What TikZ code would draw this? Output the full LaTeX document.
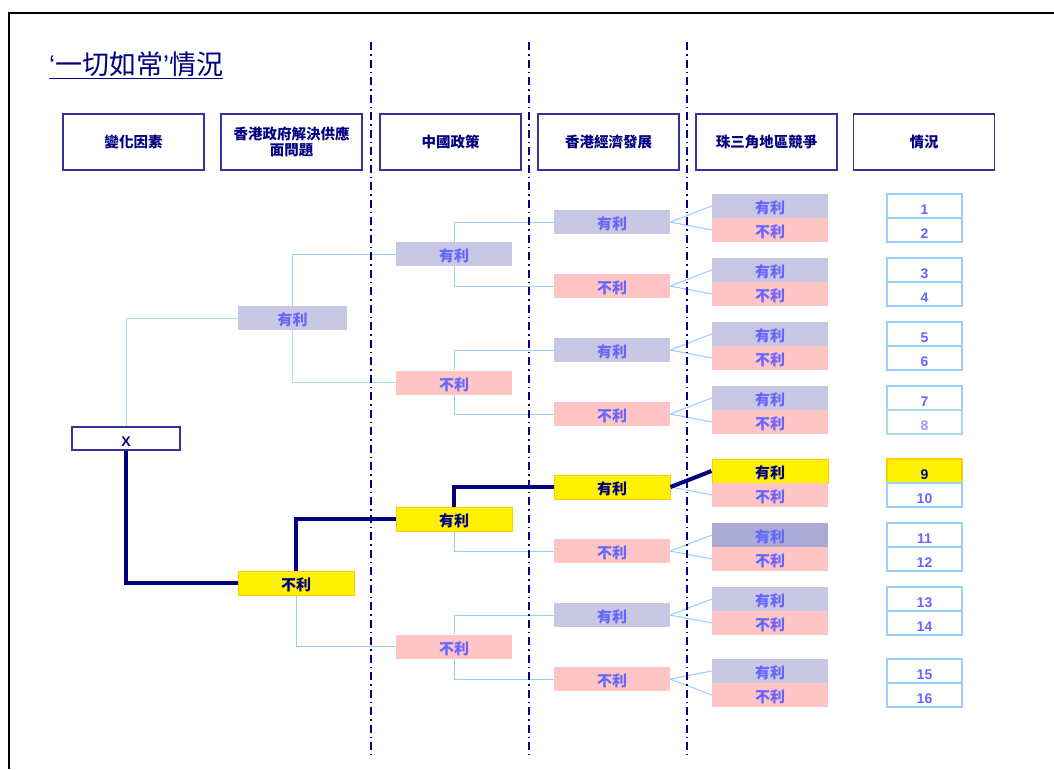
\documentclass[tikz,border=0pt]{standalone}
\usepackage{fontspec}
\setmainfont{Liberation Sans}
\newfontfamily\cjk{Noto Sans CJK TC}
\definecolor{navy}{RGB}{0,0,128}
\definecolor{hdrline}{RGB}{51,51,153}
\definecolor{favfill}{RGB}{200,200,228}
\definecolor{favdark}{RGB}{170,170,212}
\definecolor{unffill}{RGB}{255,196,196}
\definecolor{txtblue}{RGB}{102,102,255}
\definecolor{txtlight}{RGB}{153,153,255}
\definecolor{lblue}{RGB}{153,204,255}
\definecolor{lcyan}{RGB}{170,220,230}
\definecolor{gold}{RGB}{255,204,0}
\tikzset{
  hdr/.style={draw=hdrline, line width=1.3pt, fill=white, minimum width=141pt, minimum height=56pt,
    inner sep=0pt, align=center, text=navy, font=\cjk\bfseries\fontsize{14.5}{16}\selectfont},
  tb/.style={minimum height=24pt, minimum width=116pt, inner sep=0pt, text height=17pt, text depth=2pt,
    font=\cjk\bfseries\fontsize{15}{17}\selectfont},
  fav/.style={tb, fill=favfill, text=txtblue},
  favd/.style={tb, fill=favdark, text=txtblue},
  unf/.style={tb, fill=unffill, text=txtblue},
  yel/.style={tb, fill=yellow, draw=gold, line width=1pt, text=navy},
  numbox/.style={draw=lblue, line width=1.3pt, fill=white, minimum width=75pt, minimum height=24pt,
    inner sep=0pt, text height=16pt, text depth=0pt, text=txtblue, font=\bfseries\fontsize{14}{16}\selectfont},
  lite/.style={draw=lblue, line width=1pt},
  litec/.style={draw=lcyan, line width=1pt},
  heavy/.style={draw=navy, line width=4pt},
  sepline/.style={draw=navy, line width=2pt, dash pattern=on 8pt off 4pt on 1.5pt off 4pt},
}
\begin{document}
\begin{tikzpicture}[x=1pt,y=-1pt]
\useasboundingbox (0,0) rectangle (1054,769);
\fill[white] (0,0) rectangle (1054,769);
% frame
\draw[line width=2.6pt] (9,769) -- (9,13) -- (1054,13);
% title
\node[anchor=base west, inner sep=0pt, text=navy, font=\fontsize{27}{30}\selectfont] (title) at (49,74)
  {\underline{‘{\cjk 一切如常}’{\cjk 情況}}};
% separators
\coordinate (s1t) at (371,42); \coordinate (s1b) at (371,755);
\coordinate (s2t) at (529,42); \coordinate (s2b) at (529,755);
\coordinate (s3t) at (687,42); \coordinate (s3b) at (687,755);
% headers
\node[hdr] (h1) at (133.5,142) {變化因素};
\node[hdr] (h2) at (291.5,142) {香港政府解決供應\\面問題};
\node[hdr] (h3) at (450.5,142) {中國政策};
\node[hdr] (h4) at (608.5,142) {香港經濟發展};
\node[hdr] (h5) at (766.5,142) {珠三角地區競爭};
\node[hdr] (h6) at (924,142) {情況};
% level 0
\node[draw=hdrline, line width=1.2pt, fill=white, minimum width=108pt, minimum height=23pt, inner sep=0pt,
  text height=16pt, text depth=0pt, text=navy, font=\bfseries\fontsize{14}{16}\selectfont] (x) at (126,438.5) {X};
% level 1
\node[fav, minimum width=109pt] (a1) at (292.5,318) {有利};
\node[yel] (a2) at (296,583) {不利};
% level 2
\node[fav] (b1) at (454,254) {有利};
\node[unf] (b2) at (454,382.5) {不利};
\node[yel] (b3) at (454,519) {有利};
\node[unf] (b4) at (454,646.5) {不利};
% level 3
\node[fav] (c1) at (612,222) {有利};
\node[unf] (c2) at (612,286) {不利};
\node[fav] (c3) at (612,350) {有利};
\node[unf] (c4) at (612,414) {不利};
\node[yel] (c5) at (612,487) {有利};
\node[unf] (c6) at (612,551) {不利};
\node[fav] (c7) at (612,615) {有利};
\node[unf] (c8) at (612,679) {不利};
% level 4
\node[fav] (d1) at (770,206) {有利};
\node[unf] (d2) at (770,230) {不利};
\node[fav] (d3) at (770,270) {有利};
\node[unf] (d4) at (770,294) {不利};
\node[fav] (d5) at (770,334) {有利};
\node[unf] (d6) at (770,358) {不利};
\node[fav] (d7) at (770,398) {有利};
\node[unf] (d8) at (770,422) {不利};
\node[yel] (d9) at (770,471) {有利};
\node[unf] (d10) at (770,495) {不利};
\node[favd] (d11) at (770,535) {有利};
\node[unf] (d12) at (770,559) {不利};
\node[fav] (d13) at (770,599) {有利};
\node[unf] (d14) at (770,623) {不利};
\node[fav] (d15) at (770,671) {有利};
\node[unf] (d16) at (770,695) {不利};
% numbers
\node[numbox] (n1) at (924.5,206) {1};
\node[numbox] (n2) at (924.5,230) {2};
\node[numbox] (n3) at (924.5,270) {3};
\node[numbox] (n4) at (924.5,294) {4};
\node[numbox] (n5) at (924.5,334) {5};
\node[numbox] (n6) at (924.5,358) {6};
\node[numbox] (n7) at (924.5,398) {7};
\node[numbox, draw=lcyan, text=txtlight] (n8) at (924.5,422) {8};
\node[numbox, fill=yellow, draw=gold, text=navy] (n9) at (924.5,471) {9};
\node[numbox] (n10) at (924.5,495) {10};
\node[numbox] (n11) at (924.5,535) {11};
\node[numbox] (n12) at (924.5,559) {12};
\node[numbox] (n13) at (924.5,599) {13};
\node[numbox] (n14) at (924.5,623) {14};
\node[numbox] (n15) at (924.5,671) {15};
\node[numbox] (n16) at (924.5,695) {16};
% connectors
\draw[litec] (x.north) |- (a1.west);
\draw[lite] (a1.north) |- (b1.west);
\draw[litec] (a1.south) |- (b2.west);
\draw[lite] (a2.south) |- (b4.west);
\draw[lite] (b1.north) |- (c1.west);
\draw[lite] (b1.south) |- (c2.west);
\draw[lite] (b2.north) |- (c3.west);
\draw[lite] (b2.south) |- (c4.west);
\draw[lite] (b3.south) |- (c6.west);
\draw[lite] (b4.north) |- (c7.west);
\draw[lite] (b4.south) |- (c8.west);
\draw[lite] (c1.east) -- (d1.west);
\draw[lite] (c1.east) -- (d2.west);
\draw[lite] (c2.east) -- (d3.west);
\draw[lite] (c2.east) -- (d4.west);
\draw[lite] (c3.east) -- (d5.west);
\draw[lite] (c3.east) -- (d6.west);
\draw[lite] (c4.east) -- (d7.west);
\draw[lite] (c4.east) -- (d8.west);
\draw[lite] (c5.east) -- (d10.west);
\draw[lite] (c6.east) -- (d11.west);
\draw[lite] (c6.east) -- (d12.west);
\draw[lite] (c7.east) -- (d13.west);
\draw[lite] (c7.east) -- (d14.west);
\draw[lite] (c8.east) -- (d15.west);
\draw[lite] (c8.east) -- (d16.west);
% highlighted path
\draw[heavy] (x.south) |- (a2.west);
\draw[heavy] (a2.north) |- (b3.west);
\draw[heavy] (b3.north) |- (c5.west);
\draw[heavy] (c5.east) -- (d9.west);
% separators drawn on top
\draw[sepline] (s1t) -- (s1b);
\draw[sepline] (s2t) -- (s2b);
\draw[sepline] (s3t) -- (s3b);
\end{tikzpicture}
\end{document}
